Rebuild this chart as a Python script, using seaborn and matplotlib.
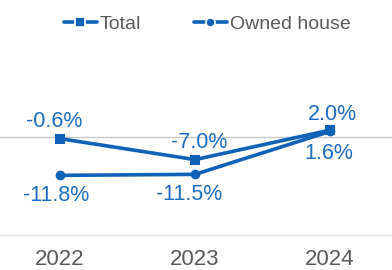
import seaborn as sns
import matplotlib.pyplot as plt
import pandas as pd

# values
years = ["2022", "2023", "2024"]
total = [-0.6, -7.0, 2.0]
owned = [-11.8, -11.5, 1.6]

blue = "#0F62B8"

df = pd.DataFrame({
    "year": years * 2,
    "value": total + owned,
    "series": ["Total"] * 3 + ["Owned house"] * 3,
})

sns.set_style("white")
plt.rcParams["font.family"] = ["Liberation Sans", "DejaVu Sans"]

fig = plt.figure(figsize=(3.92, 2.70), dpi=100)
ax = fig.add_axes([0, 0.1296, 1, 0.607])

sns.lineplot(data=df, x="year", y="value", hue="series", style="series",
             markers={"Total": "s", "Owned house": "o"}, dashes=False,
             palette=[blue, blue], linewidth=2.6, markersize=7,
             markeredgewidth=0, ax=ax)

ax.axhline(0, color="#C8C8C8", lw=1, zorder=0)

ax.set_xlim(-60 / 135, 332 / 135)
ax.set_ylim(-30, 20)

# data labels
lbl = dict(color="#1C6DC0", fontsize=15.5, ha="center", va="center", textcoords="offset points")
offs_total = [(-4, 12), (3, 12), (2, 11)]
offs_owned = [(-3, -14.5), (-4, -14.5), (-1, -16)]
for i, v in enumerate(total):
    ax.annotate(f"{v:.1f}%", (i, v), xytext=offs_total[i], **lbl)
for i, v in enumerate(owned):
    ax.annotate(f"{v:.1f}%", (i, v), xytext=offs_owned[i], **lbl)

ax.set_xlabel("")
ax.set_ylabel("")
ax.set_yticks([])
ax.tick_params(axis="x", length=0, pad=10, labelsize=16, labelcolor="#595959")
for s in ["top", "left", "right"]:
    ax.spines[s].set_visible(False)
ax.spines["bottom"].set_color("#E0E0E0")
ax.spines["bottom"].set_linewidth(1)

handles, labels = ax.get_legend_handles_labels()
for h in handles:
    h.set_markeredgecolor("white")
    h.set_markeredgewidth(1.2)
    h.set_markersize(6.5)
ax.legend(handles, labels, ncol=2, frameon=False, fontsize=14,
          loc="center", bbox_to_anchor=(0.528, 0.91), bbox_transform=fig.transFigure,
          handlelength=1.7, handletextpad=0.15, columnspacing=2.7, labelcolor="#595959")

plt.savefig("out.png", dpi=100)
